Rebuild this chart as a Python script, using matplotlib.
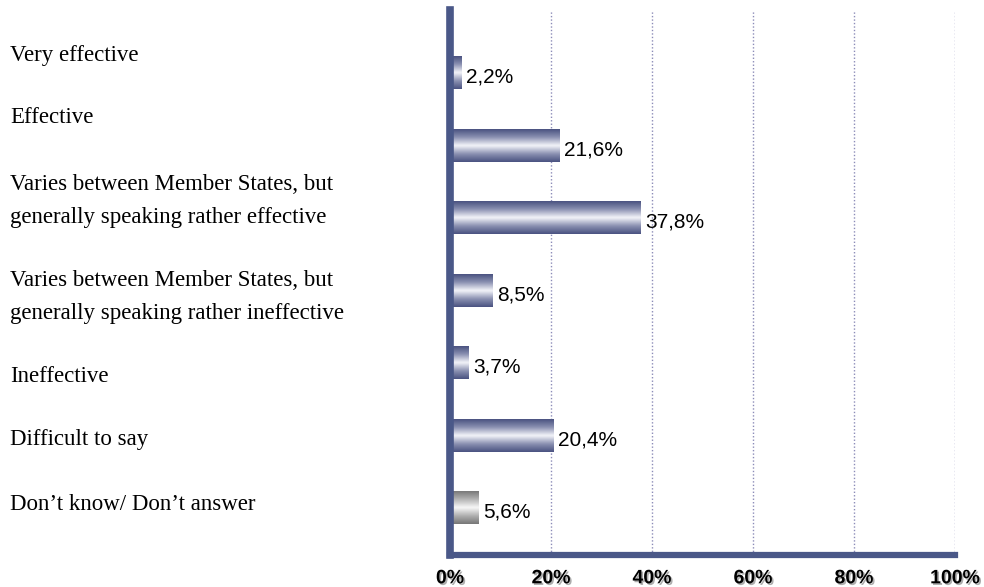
import numpy as np
import matplotlib
matplotlib.use('Agg')
import matplotlib.pyplot as plt
import matplotlib.patheffects as pe
from matplotlib.colors import LinearSegmentedColormap

categories = [
    "Very effective",
    "Effective",
    "Varies between Member States, but\ngenerally speaking rather effective",
    "Varies between Member States, but\ngenerally speaking rather ineffective",
    "Ineffective",
    "Difficult to say",
    "Don\u2019t know/ Don\u2019t answer",
]
values = [2.2, 21.6, 37.8, 8.5, 3.7, 20.4, 5.6]
value_labels = ["2,2%", "21,6%", "37,8%", "8,5%", "3,7%", "20,4%", "5,6%"]
xticks = [0, 20, 40, 60, 80, 100]
xtick_labels = ["0%", "20%", "40%", "60%", "80%", "100%"]

axis_col = '#4a5888'
blue_cm = LinearSegmentedColormap.from_list('b', ['#4a5381', '#8d93b3', '#f4f5fa', '#8d93b3', '#4a5381'])
grey_cm = LinearSegmentedColormap.from_list('g', ['#7a7a7a', '#b5b5b5', '#f8f8f8', '#b0b0b0', '#777777'])

fig = plt.figure(figsize=(9.84, 5.87), dpi=100)
ax = fig.add_axes([450 / 984, 1 - 555 / 587, 505 / 984, 545 / 587])

ypos = np.arange(len(values))
bh = 0.45
bars = ax.barh(ypos, values, height=bh, color='none', edgecolor='none')

grad = np.linspace(0, 1, 64).reshape(-1, 1)
for i, (rect, v) in enumerate(zip(bars, values)):
    cm = grey_cm if i == len(values) - 1 else blue_cm
    y0 = rect.get_y()
    ax.imshow(grad, cmap=cm, aspect='auto', interpolation='bicubic',
              extent=[0, v, y0 + bh, y0], zorder=2)
    ax.text(v + 0.9, ypos[i] + 0.06, value_labels[i], va='center', ha='left',
            fontsize=15, family='Liberation Sans', color='black')

ax.set_xlim(0, 100)
ax.set_ylim(6.65, -0.87)

ax.set_xticks(xticks)
ax.set_xticklabels(xtick_labels, fontsize=14, fontweight='bold', family='Liberation Sans',
                   path_effects=[pe.SimplePatchShadow(offset=(1.2, -1.2), shadow_rgbFace='#999999', alpha=0.8), pe.Normal()])
ax.tick_params(axis='x', length=0, pad=11)
ax.set_yticks([])

for x in xticks[1:]:
    ax.axvline(x, color='#8c8cb8', linestyle=(0, (1, 1.5)), linewidth=1, zorder=1)

for s in ['top', 'right']:
    ax.spines[s].set_visible(False)
ax.spines['left'].set_color(axis_col)
ax.spines['left'].set_linewidth(5.5)
ax.spines['bottom'].set_color(axis_col)
ax.spines['bottom'].set_linewidth(4.5)
ax.spines['left'].set_capstyle('projecting')
ax.spines['bottom'].set_capstyle('projecting')

# category labels, left aligned in figure coords
label_y = [55, 118, 201, 297, 376, 440, 505]
for lab, py in zip(categories, label_y):
    fig.text(10 / 984, 1 - py / 587, lab, ha='left', va='center',
             fontsize=16.5, family='Liberation Serif', linespacing=1.72)

fig.savefig('out.png', dpi=100)
